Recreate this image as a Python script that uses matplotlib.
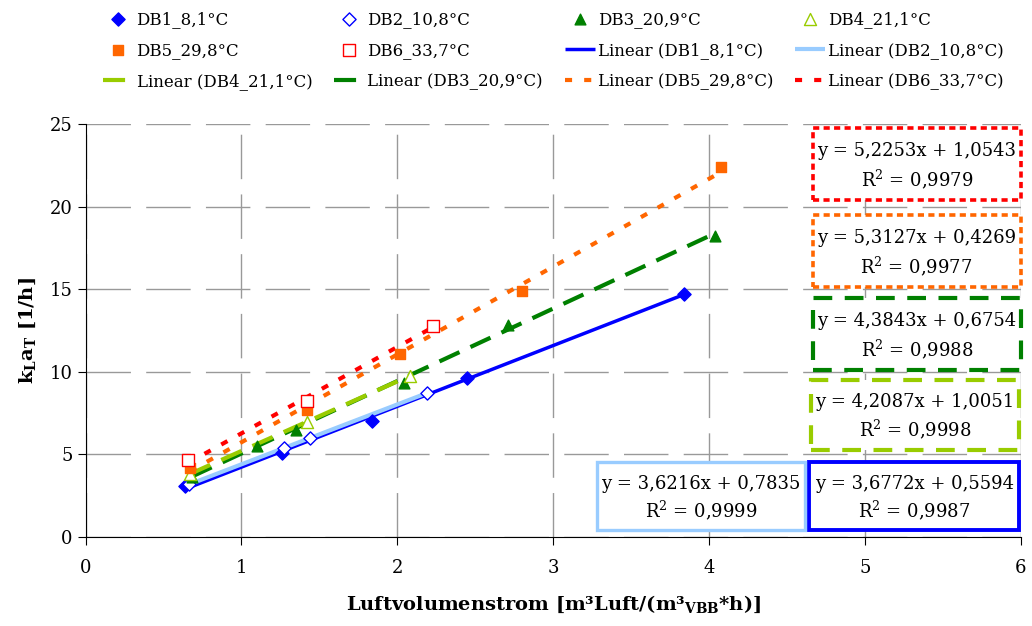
import matplotlib.pyplot as plt
from matplotlib.patches import Rectangle

plt.rcParams['font.family'] = ['DejaVu Serif']
plt.rcParams['mathtext.fontset'] = 'dejavuserif'

# Messreihen: Luftvolumenstrom und kLaT
db1_x = [0.635, 1.26, 1.84, 2.45, 3.84]
db1_y = [3.09, 5.08, 7.02, 9.62, 14.71]
db2_x = [0.66, 1.27, 1.44, 2.19]
db2_y = [3.2, 5.4, 6.0, 8.7]
db3_x = [0.68, 1.10, 1.35, 2.04, 2.71, 4.04]
db3_y = [3.63, 5.5, 6.48, 9.3, 12.83, 18.2]
db4_x = [0.67, 1.42, 2.08]
db4_y = [3.8, 6.95, 9.75]
db5_x = [0.67, 1.42, 2.02, 2.80, 4.08]
db5_y = [4.18, 7.69, 11.08, 14.9, 22.4]
db6_x = [0.655, 1.42, 2.23]
db6_y = [4.66, 8.23, 12.77]

namen = ['DB1_8,1°C', 'DB2_10,8°C', 'DB3_20,9°C', 'DB4_21,1°C', 'DB5_29,8°C', 'DB6_33,7°C']

# Trendlinien (Steigung, Achsenabschnitt, R²)
steigung = [3.6772, 3.6216, 4.3843, 4.2087, 5.3127, 5.2253]
achse = [0.5594, 0.7835, 0.6754, 1.0051, 0.4269, 1.0543]
r2 = ['0,9987', '0,9999', '0,9988', '0,9998', '0,9977', '0,9979']

xs = [db1_x, db2_x, db3_x, db4_x, db5_x, db6_x]
ys = [db1_y, db2_y, db3_y, db4_y, db5_y, db6_y]

farben = ['#0000FF', '#99CCFF', '#008000', '#99CC00', '#FF6600', '#FF0000']
marker_farbe = ['#0000FF', '#0000FF', '#008000', '#99CC00', '#FF6600', '#FF0000']
marker = ['D', 'D', '^', '^', 's', 's']
gefuellt = [True, False, True, False, True, False]
groesse = [45, 45, 60, 75, 55, 75]
strich = (0, (5.3, 2.9))
punkt = (0, (1.7, 2.9))
stile = ['-', '-', strich, strich, punkt, punkt]
breiten = [2.5, 3, 3, 3, 3, 3]
# Rahmenstile der Gleichungsfelder
box_stile = ['-', '-', (0, (4.5, 3)), (0, (4.5, 3)), (0, (1.7, 1.2)), (0, (1.7, 1.2))]
box_breiten = [2.8, 2.4, 3, 3, 2.6, 2.6]

fig, ax = plt.subplots(figsize=(10.32, 6.26), dpi=100)
fig.subplots_adjust(left=0.083, right=0.989, top=0.802, bottom=0.142)

punkte = []
linien = []
for i in range(6):
    x0, x1 = min(xs[i]), max(xs[i])
    ln, = ax.plot([x0, x1], [steigung[i] * x0 + achse[i], steigung[i] * x1 + achse[i]],
                  color=farben[i], linestyle=stile[i], lw=breiten[i], zorder=3,
                  solid_capstyle='butt', dash_capstyle='butt')
    linien.append(ln)
for i in range(6):
    if gefuellt[i]:
        p = ax.scatter(xs[i], ys[i], marker=marker[i], s=groesse[i],
                       color=marker_farbe[i], zorder=4, label=namen[i])
    else:
        p = ax.scatter(xs[i], ys[i], marker=marker[i], s=groesse[i], facecolors='white',
                       edgecolors=marker_farbe[i], linewidths=1, zorder=4, label=namen[i])
    punkte.append(p)

ax.set_xlim(0, 6)
ax.set_ylim(0, 25)
ax.set_xticks(range(0, 7))
ax.set_yticks(range(0, 26, 5))
ax.grid(True, color='#999999', lw=1, linestyle=(0, (32, 11)))
ax.set_axisbelow(True)
for s in ['top', 'right']:
    ax.spines[s].set_visible(False)
ax.tick_params(labelsize=13, length=6, direction='out')
ax.tick_params(axis='x', pad=10)

ax.set_xlabel(r'Luftvolumenstrom [m³Luft/(m³$_{\mathbf{VBB}}$*h)]', fontsize=14,
              fontweight='bold', labelpad=12)
ax.set_ylabel(r'$\mathbf{k_L a_T}$ [1/h]', fontsize=14, fontweight='bold', labelpad=8)

# Legende zeilenweise anordnen
eintraege = punkte + [linien[0], linien[1], linien[3], linien[2], linien[4], linien[5]]
texte = namen + ['Linear (' + n + ')' for n in [namen[0], namen[1], namen[3], namen[2], namen[4], namen[5]]]
reihen = 3
spalten = 4
h_sort = [eintraege[r * spalten + c] for c in range(spalten) for r in range(reihen)]
t_sort = [texte[r * spalten + c] for c in range(spalten) for r in range(reihen)]
fig.legend(h_sort, t_sort, ncol=4, loc='upper left', bbox_to_anchor=(0.1, 0.983),
           frameon=False, fontsize=12, handlelength=1.8, handletextpad=0.2,
           columnspacing=1.3, labelspacing=0.85, scatterpoints=1,
           borderpad=0, borderaxespad=0)

# Gleichungsfelder
boxen = [
    (0.774, 0.017, 0.224, 0.165, 0),
    (0.547, 0.017, 0.222, 0.165, 1),
    (0.778, 0.404, 0.222, 0.175, 2),
    (0.776, 0.211, 0.222, 0.169, 3),
    (0.778, 0.605, 0.222, 0.175, 4),
    (0.778, 0.816, 0.222, 0.174, 5),
]
for bx, by, bw, bh, i in boxen:
    rect = Rectangle((bx, by), bw, bh, transform=ax.transAxes, facecolor='white',
                     edgecolor=farben[i], lw=box_breiten[i], linestyle=box_stile[i],
                     zorder=5, clip_on=False)
    ax.add_patch(rect)
    gl = 'y = ' + f'{steigung[i]:.4f}'.replace('.', ',') + 'x + ' + f'{achse[i]:.4f}'.replace('.', ',')
    ax.text(bx + bw / 2, by + bh * 0.68, gl, transform=ax.transAxes, ha='center',
            va='center', fontsize=13, zorder=6)
    ax.text(bx + bw / 2, by + bh * 0.29, 'R$^2$ = ' + r2[i], transform=ax.transAxes,
            ha='center', va='center', fontsize=13, zorder=6)

plt.savefig('out.png', dpi=100)
